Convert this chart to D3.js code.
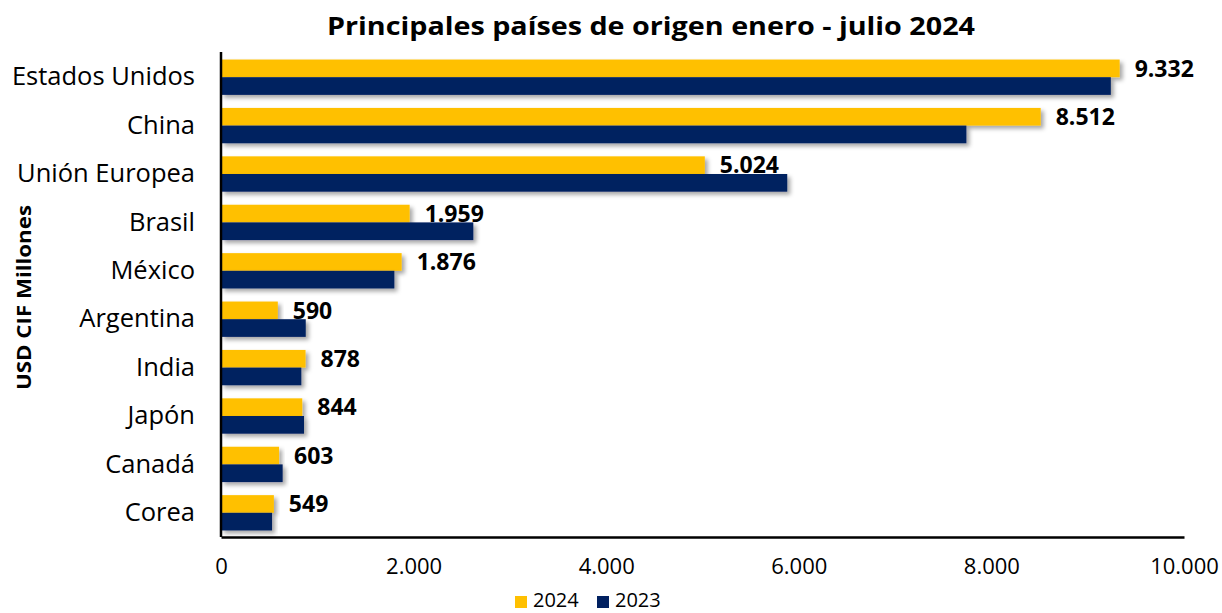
<!DOCTYPE html>
<html><head><meta charset="utf-8">
<script src="https://cdn.jsdelivr.net/npm/d3@7"></script>
<style>body{margin:0;background:#fff;} text{font-family:"Open Sans",sans-serif;}</style>
</head><body>
<svg id="c" width="1222" height="613"></svg>
<script>
const categories = ["Estados Unidos","China","Unión Europea","Brasil","México","Argentina","India","Japón","Canadá","Corea"];
const values2024 = [9332, 8512, 5024, 1959, 1876, 590, 878, 844, 603, 549];
const values2023 = [9240, 7740, 5880, 2620, 1800, 880, 834, 862, 640, 530];
const seriesNames = ["2024","2023"];
const colors = ["#FFC000","#002060"];
const xTicks = [0,2000,4000,6000,8000,10000];
const title = "Principales países de origen enero - julio 2024";
const yTitle = "USD CIF Millones";

const fmt = v => d3.format(",")(v).replace(/,/g,".");
const svg = d3.select("#c");
const defs = svg.append("defs");
const f = defs.append("filter").attr("id","sh").attr("x","-5%").attr("y","-30%").attr("width","115%").attr("height","180%");
f.append("feDropShadow").attr("dx",3).attr("dy",3).attr("stdDeviation",2).attr("flood-color","#000").attr("flood-opacity",0.35);

const x = d3.scaleLinear().domain([0,10000]).range([221,1184]);
const y = d3.scaleBand().domain(categories).range([53,537]).paddingInner(0.27).paddingOuter(0.135);
const ys = d3.scaleBand().domain(seriesNames).range([0,y.bandwidth()]);

const data = categories.map((c,i)=>({c, v:[values2024[i], values2023[i]]}));
const g = svg.append("g");
data.forEach(d=>{
  seriesNames.forEach((s,j)=>{
    g.append("rect").attr("x",x(0)).attr("y",y(d.c)+ys(s)).attr("width",x(d.v[j])-x(0)).attr("height",ys.bandwidth())
     .attr("fill",colors[j]).attr("filter","url(#sh)");
  });
});
// labels
svg.append("g").selectAll("text").data(data).join("text")
  .attr("x",d=>x(d.v[0])+15).attr("y",d=>y(d.c)+ys("2024")+ys.bandwidth()/2+2)
  .attr("dominant-baseline","middle").attr("font-size",23).attr("font-weight","bold").attr("fill","#000")
  .text(d=>fmt(d.v[0]));

// axes
const xa = svg.append("g").attr("transform","translate(0,537)").call(d3.axisBottom(x).tickValues(xTicks).tickSize(0).tickPadding(21).tickFormat(fmt));
xa.select(".domain").attr("stroke","#000").attr("stroke-width",2.5);
xa.selectAll("text").attr("font-size",22).attr("fill","#000").style("font-family","'Open Sans',sans-serif");
const ya = svg.append("g").attr("transform","translate(221,0)").call(d3.axisLeft(y).tickSize(0).tickPadding(26));
ya.select(".domain").attr("stroke","#000").attr("stroke-width",2.5).attr("d","M0,52V537");
ya.selectAll("text").attr("font-size",25.5).attr("fill","#000").style("font-family","'Open Sans',sans-serif");

svg.append("text").attr("x",651).attr("y",35).attr("text-anchor","middle").attr("font-size",25).attr("font-weight","bold")
  .attr("textLength",648).attr("lengthAdjust","spacingAndGlyphs").text(title);
svg.append("text").attr("transform","translate(31,297.5) rotate(-90)").attr("text-anchor","middle").attr("font-size",19).attr("font-weight","bold")
  .attr("textLength",185).attr("lengthAdjust","spacingAndGlyphs").text(yTitle);

// legend
const lg = svg.append("g");
const lx = [515, 597];
seriesNames.forEach((s,j)=>{
  lg.append("rect").attr("x",lx[j]).attr("y",596).attr("width",12).attr("height",12).attr("fill",colors[j]);
  lg.append("text").attr("x",lx[j]+18).attr("y",607).attr("font-size",20).text(s);
});
</script>
</body></html>
